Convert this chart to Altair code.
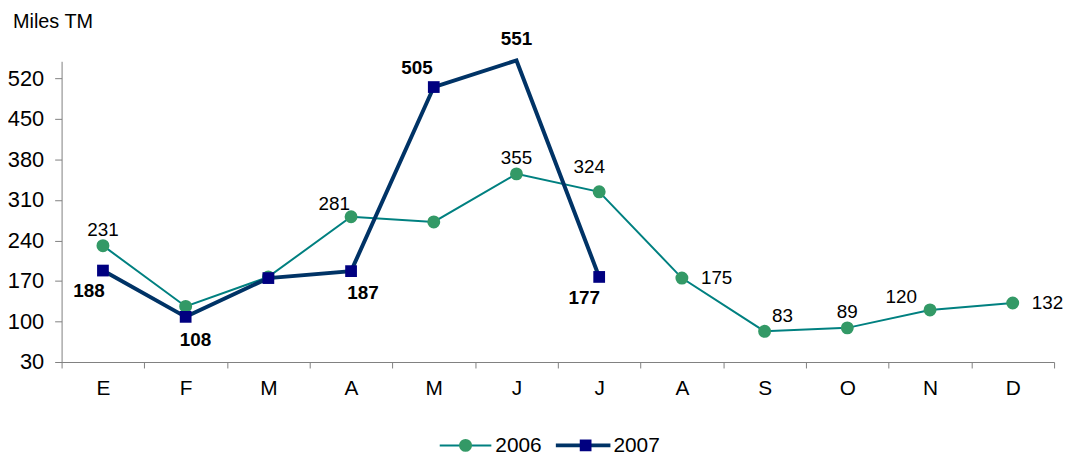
import altair as alt
import pandas as pd

months = ["E", "F", "M", "A", "M", "J", "J", "A", "S", "O", "N", "D"]
v2006 = [231, 126, 177, 281, 272, 355, 324, 175, 83, 89, 120, 132]
v2007 = [188, 108, 175, 187, 505, 551, 177]
lab2006 = ["t", "", "", "tl", "", "t", "t2", "r", "tr", "t", "tl2", "r"]
lab2007 = ["bl", "b", "", "br", "tl", "t", "bl2"]
mark2007 = [True, True, True, True, True, False, True]

OFF2006 = {"t": (0, -16), "tl": (-17, -13), "tl2": (-29, -13), "t2": (-10, -25),
           "r": (35, 0), "tr": (18, -15)}
OFF2007 = {"bl": (-14, 21), "b": (10, 23), "br": (12, 22), "tl": (-17, -19),
           "t": (0, -22), "bl2": (-15, 21)}

FONT = "Liberation Sans"
C06_LINE, C06_PT = "#008080", "#339966"
C07_LINE, C07_PT = "#003366", "#000080"

d06 = pd.DataFrame({"i": list(range(12)), "v": v2006, "pos": lab2006})
d07 = pd.DataFrame({"i": list(range(7)), "v": v2007, "pos": lab2007, "mk": mark2007})

label_expr = "[" + ",".join("'%s'" % m for m in months) + "][datum.value]"

x = alt.X("i:O", bandPosition=0.5,
          scale=alt.Scale(type="band", domain=list(range(12)), paddingInner=0, paddingOuter=0),
          axis=alt.Axis(title=None, labelExpr=label_expr, tickBand="extent", grid=False,
                        domainColor="#808080", tickColor="#808080", tickSize=6,
                        labelFont=FONT, labelFontSize=21, labelColor="#000",
                        labelPadding=10, labelAngle=0))
y = alt.Y("v:Q", scale=alt.Scale(domain=[30, 549.5], nice=False, zero=False),
          axis=alt.Axis(title=None, values=[30, 100, 170, 240, 310, 380, 450, 520], grid=False,
                        domainColor="#808080", tickColor="#808080", tickSize=7,
                        labelFont=FONT, labelFontSize=22, labelColor="#000", labelPadding=11))

layers = []
layers.append(alt.Chart(d06).mark_line(color=C06_LINE, strokeWidth=2).encode(x=x, y=y))
layers.append(alt.Chart(d06).mark_point(shape="circle", filled=True, color=C06_PT, size=170, opacity=1).encode(x=x, y=y))
layers.append(alt.Chart(d07).mark_line(color=C07_LINE, strokeWidth=4).encode(x=x, y=y))
layers.append(alt.Chart(d07).transform_filter("datum.mk").mark_point(shape="square", filled=True, color=C07_PT, size=140, opacity=1).encode(x=x, y=y))

for code, (dx, dy) in OFF2006.items():
    layers.append(alt.Chart(d06).transform_filter(alt.datum.pos == code).mark_text(
        font=FONT, fontSize=19, color="#000", dx=dx, dy=dy, baseline="middle", align="center"
    ).encode(x=x, y=y, text="v:Q"))
for code, (dx, dy) in OFF2007.items():
    layers.append(alt.Chart(d07).transform_filter(alt.datum.pos == code).mark_text(
        font=FONT, fontSize=19, fontWeight="bold", color="#000", dx=dx, dy=dy, baseline="middle", align="center"
    ).encode(x=x, y=y, text="v:Q"))

# title and legend (pixel positions relative to plot area)
one = pd.DataFrame({"a": [0]})
LY = 387
extra = [
    alt.Chart(one).mark_text(font=FONT, fontSize=20, align="left", baseline="middle", color="#000").encode(
        x=alt.value(-49), y=alt.value(-40), text=alt.value("Miles TM")),
    alt.Chart(one).mark_rule(color=C06_LINE, strokeWidth=2).encode(x=alt.value(381), x2=alt.value(433), y=alt.value(LY)),
    alt.Chart(one).mark_point(shape="circle", filled=True, color=C06_PT, size=170, opacity=1).encode(x=alt.value(407), y=alt.value(LY)),
    alt.Chart(one).mark_text(font=FONT, fontSize=21, align="left", baseline="middle", color="#000").encode(x=alt.value(437), y=alt.value(LY + 1), text=alt.value("2006")),
    alt.Chart(one).mark_rule(color=C07_LINE, strokeWidth=4).encode(x=alt.value(498), x2=alt.value(553), y=alt.value(LY)),
    alt.Chart(one).mark_point(shape="square", filled=True, color=C07_PT, size=140, opacity=1).encode(x=alt.value(528), y=alt.value(LY)),
    alt.Chart(one).mark_text(font=FONT, fontSize=21, align="left", baseline="middle", color="#000").encode(x=alt.value(556), y=alt.value(LY + 1), text=alt.value("2007")),
]

chart = alt.layer(*layers, *extra).properties(
    width=1000, height=303,
    autosize=alt.AutoSizeParams(type="none"),
    padding={"left": 54, "top": 52, "right": 10, "bottom": 94},
).configure(background="white").configure_view(strokeWidth=0)

chart.save("out.html", embed_options={"renderer": "svg", "actions": False})
